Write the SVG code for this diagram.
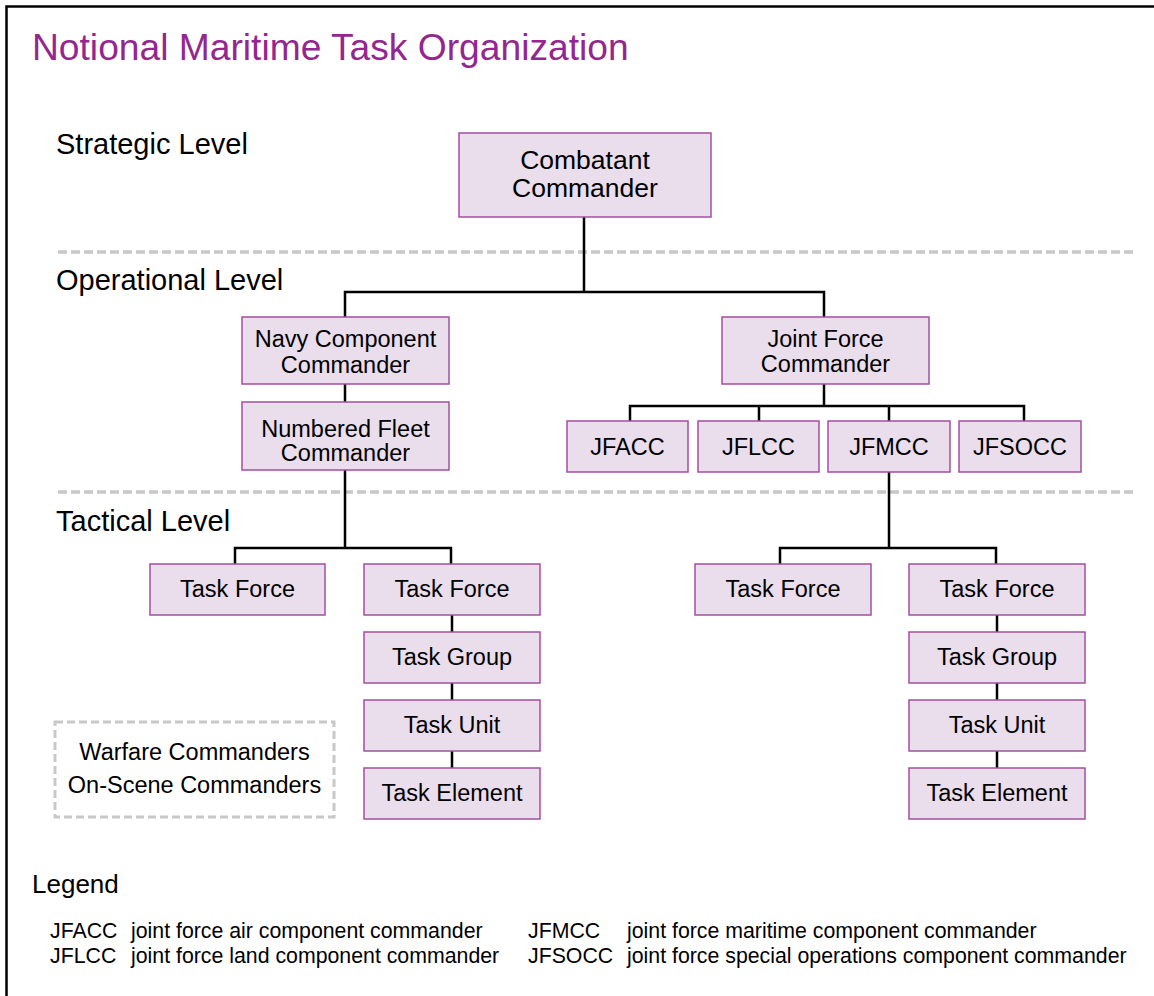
<svg xmlns="http://www.w3.org/2000/svg" width="1154" height="996" viewBox="0 0 1154 996">
<style>
text{font-family:"Liberation Sans",Arial,sans-serif;fill:#000}
.title{font-size:37.2px;fill:#93278F}
.lvl{font-size:29px}
.box{fill:#EADDEC;stroke:#A24FA0;stroke-width:1.5}
.bt{font-size:23.5px;text-anchor:middle}
.lg{font-size:21.3px}
.conn{fill:none;stroke:#000;stroke-width:2.5}
.dash{fill:none;stroke:#C8C8C8;stroke-width:3.5;stroke-dasharray:9 4}
</style>
<rect width="1154" height="996" fill="#fff"/>
<path d="M6.5 996V6.5H1154" fill="none" stroke="#000" stroke-width="2.5"/>
<text class="title" x="32" y="60">Notional Maritime Task Organization</text>
<text class="lvl" x="56" y="154">Strategic Level</text>
<text class="lvl" x="56" y="290">Operational Level</text>
<text class="lvl" x="56" y="531">Tactical Level</text>
<path class="dash" d="M58 252H1134M58 492H1134"/>
<g id="connectors">
<path class="conn" d="M584 217V292M345 317V292H824V317"/>
<path class="conn" d="M345 384V402M345 470V548M235 564V548H451V564"/>
<path class="conn" d="M824 384V406M630 421V406H1024V421M759 406V421M889 406V421"/>
<path class="conn" d="M889 472V548M780 564V548H996V564"/>
<path class="conn" d="M452 615V632M452 683V700M452 751V768"/>
<path class="conn" d="M997 615V632M997 683V700M997 751V768"/>
</g>
<g id="combatant"><rect class="box" x="459" y="133" width="252" height="84"/><text class="bt" style="font-size:26.5px" x="585" y="169">Combatant</text><text class="bt" style="font-size:26.5px" x="585" y="197">Commander</text></g>
<g id="ncc"><rect class="box" x="242" y="317" width="207" height="67"/><text class="bt" x="345.5" y="347">Navy Component</text><text class="bt" x="345.5" y="373">Commander</text></g>
<g id="nfc"><rect class="box" x="242" y="402" width="207" height="68"/><text class="bt" x="345.5" y="437">Numbered Fleet</text><text class="bt" x="345.5" y="461">Commander</text></g>
<g id="jfc"><rect class="box" x="722" y="317" width="207" height="67"/><text class="bt" x="825.5" y="347">Joint Force</text><text class="bt" x="825.5" y="372">Commander</text></g>
<g id="jfacc"><rect class="box" x="567" y="421" width="121" height="51"/><text class="bt" x="627.5" y="455">JFACC</text></g>
<g id="jflcc"><rect class="box" x="698" y="421" width="121" height="51"/><text class="bt" x="758.5" y="455">JFLCC</text></g>
<g id="jfmcc"><rect class="box" x="828" y="421" width="122" height="51"/><text class="bt" x="889" y="455">JFMCC</text></g>
<g id="jfsocc"><rect class="box" x="959" y="421" width="122" height="51"/><text class="bt" x="1020" y="455">JFSOCC</text></g>
<g id="tf1"><rect class="box" x="150" y="564" width="175" height="51"/><text class="bt" x="237.5" y="597">Task Force</text></g>
<g id="tf2"><rect class="box" x="364" y="564" width="176" height="51"/><text class="bt" x="452" y="597">Task Force</text></g>
<g id="tg1"><rect class="box" x="364" y="632" width="176" height="51"/><text class="bt" x="452" y="665">Task Group</text></g>
<g id="tu1"><rect class="box" x="364" y="700" width="176" height="51"/><text class="bt" x="452" y="733">Task Unit</text></g>
<g id="te1"><rect class="box" x="364" y="768" width="176" height="51"/><text class="bt" x="452" y="801">Task Element</text></g>
<g id="tf3"><rect class="box" x="695" y="564" width="176" height="51"/><text class="bt" x="783" y="597">Task Force</text></g>
<g id="tf4"><rect class="box" x="909" y="564" width="176" height="51"/><text class="bt" x="997" y="597">Task Force</text></g>
<g id="tg2"><rect class="box" x="909" y="632" width="176" height="51"/><text class="bt" x="997" y="665">Task Group</text></g>
<g id="tu2"><rect class="box" x="909" y="700" width="176" height="51"/><text class="bt" x="997" y="733">Task Unit</text></g>
<g id="te2"><rect class="box" x="909" y="768" width="176" height="51"/><text class="bt" x="997" y="801">Task Element</text></g>
<g id="warfare"><rect class="dash" style="stroke-width:3;stroke-dasharray:8 4" x="55" y="722" width="279" height="95"/><text class="bt" x="194.5" y="760">Warfare Commanders</text><text class="bt" x="194.5" y="793">On-Scene Commanders</text></g>
<g id="legend">
<text x="32" y="893" style="font-size:26px">Legend</text>
<text class="lg" x="50" y="938">JFACC</text><text class="lg" x="131" y="938">joint force air component commander</text>
<text class="lg" x="50" y="963">JFLCC</text><text class="lg" x="131" y="963">joint force land component commander</text>
<text class="lg" x="528" y="938">JFMCC</text><text class="lg" x="627" y="938">joint force maritime component commander</text>
<text class="lg" x="528" y="963">JFSOCC</text><text class="lg" x="627" y="963">joint force special operations component commander</text>
</g>
</svg>
